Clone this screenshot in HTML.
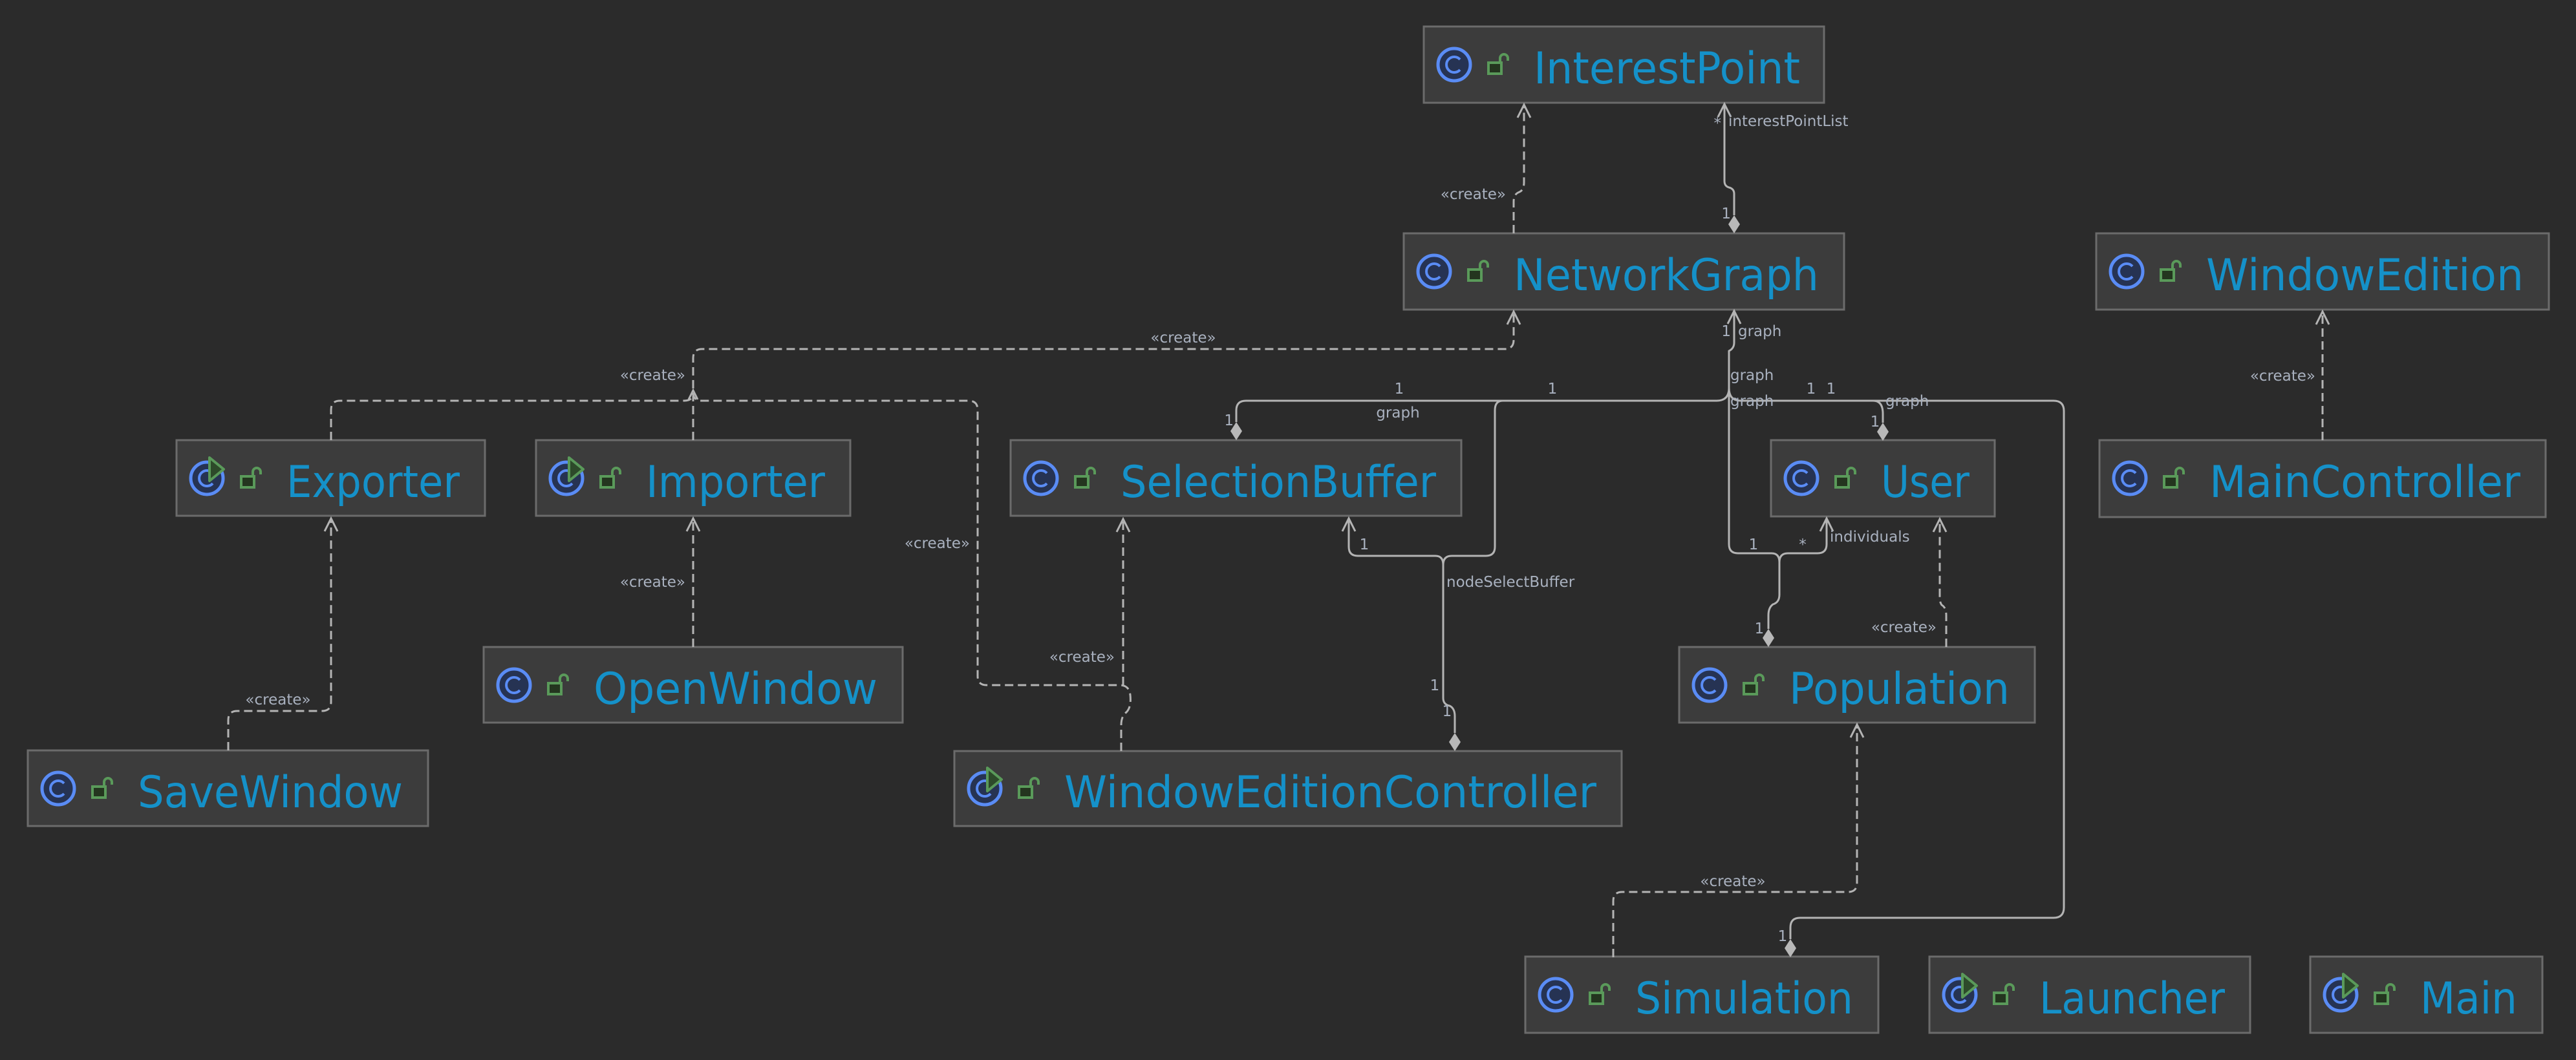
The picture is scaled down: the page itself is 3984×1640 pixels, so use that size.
<!DOCTYPE html>
<html><head><meta charset="utf-8"><style>
html,body{margin:0;padding:0;background:#2b2b2b;}
svg{display:block;}
.box{fill:#3c3c3c;stroke:#6b6b6b;stroke-width:3;}
.nm{font-family:"DejaVu Sans","Liberation Sans",sans-serif;font-size:68px;fill:#1591c9;}
.lb{font-family:"DejaVu Sans","Liberation Sans",sans-serif;font-size:23px;fill:#a9b1bf;}
.s{fill:none;stroke:#b4b4b4;stroke-width:3;}
.d{fill:none;stroke:#b4b4b4;stroke-width:3;stroke-dasharray:13 7;}
.ar{fill:none;stroke:#b4b4b4;stroke-width:3;}
.dm{fill:#b8b8b8;}
</style></head><body>
<svg width="3984" height="1640" viewBox="0 0 3984 1640" xmlns="http://www.w3.org/2000/svg">
<defs>
<g id="ic">
  <circle cx="0" cy="0" r="25" fill="#263353" stroke="#5a8cf5" stroke-width="5"/>
  <path d="M9,-8 A12,12 0 1 0 9,8" fill="none" stroke="#5a8cf5" stroke-width="4"/>
  <rect x="53" y="-3" width="20" height="17" fill="#24351f" stroke="#5a9a5a" stroke-width="4"/>
  <path d="M71,-3 V-10 A6,6 0 0 1 83,-10 V-6" fill="none" stroke="#5a9a5a" stroke-width="4"/>
</g>
<g id="run">
  <polygon points="4,-32 26,-14 4,4" fill="#2d4a2a" stroke="#5a9a5a" stroke-width="4" stroke-linejoin="round"/>
</g>
</defs>

<g>
<rect class="box" x="2202" y="41" width="619" height="118"/><use href="#ic" x="2249" y="100"/><text class="nm" x="2372" y="129" textLength="412" lengthAdjust="spacingAndGlyphs">InterestPoint</text>
<rect class="box" x="2171" y="361" width="681" height="118"/><use href="#ic" x="2218" y="420"/><text class="nm" x="2341" y="449" textLength="472" lengthAdjust="spacingAndGlyphs">NetworkGraph</text>
<rect class="box" x="3242" y="361" width="700" height="118"/><use href="#ic" x="3289" y="420"/><text class="nm" x="3412" y="449" textLength="491" lengthAdjust="spacingAndGlyphs">WindowEdition</text>
<rect class="box" x="273" y="681" width="477" height="117"/><use href="#ic" x="320" y="740"/><use href="#run" x="320" y="740"/><text class="nm" x="443" y="769" textLength="268" lengthAdjust="spacingAndGlyphs">Exporter</text>
<rect class="box" x="829" y="681" width="486" height="117"/><use href="#ic" x="876" y="740"/><use href="#run" x="876" y="740"/><text class="nm" x="999" y="769" textLength="277" lengthAdjust="spacingAndGlyphs">Importer</text>
<rect class="box" x="1563" y="681" width="697" height="117"/><use href="#ic" x="1610" y="740"/><text class="nm" x="1733" y="769" textLength="488" lengthAdjust="spacingAndGlyphs">SelectionBuffer</text>
<rect class="box" x="2739" y="681" width="346" height="118"/><use href="#ic" x="2786" y="740"/><text class="nm" x="2909" y="769" textLength="137" lengthAdjust="spacingAndGlyphs">User</text>
<rect class="box" x="3247" y="681" width="690" height="119"/><use href="#ic" x="3294" y="740"/><text class="nm" x="3417" y="769" textLength="481" lengthAdjust="spacingAndGlyphs">MainController</text>
<rect class="box" x="748" y="1001" width="648" height="117"/><use href="#ic" x="795" y="1060"/><text class="nm" x="918" y="1089" textLength="439" lengthAdjust="spacingAndGlyphs">OpenWindow</text>
<rect class="box" x="2597" y="1001" width="550" height="117"/><use href="#ic" x="2644" y="1060"/><text class="nm" x="2767" y="1089" textLength="341" lengthAdjust="spacingAndGlyphs">Population</text>
<rect class="box" x="43" y="1161" width="619" height="117"/><use href="#ic" x="90" y="1220"/><text class="nm" x="213" y="1249" textLength="410" lengthAdjust="spacingAndGlyphs">SaveWindow</text>
<rect class="box" x="1476" y="1162" width="1032" height="116"/><use href="#ic" x="1523" y="1220"/><use href="#run" x="1523" y="1220"/><text class="nm" x="1646" y="1249" textLength="823" lengthAdjust="spacingAndGlyphs">WindowEditionController</text>
<rect class="box" x="2359" y="1480" width="546" height="118"/><use href="#ic" x="2406" y="1539"/><text class="nm" x="2529" y="1568" textLength="337" lengthAdjust="spacingAndGlyphs">Simulation</text>
<rect class="box" x="2984" y="1480" width="496" height="118"/><use href="#ic" x="3031" y="1539"/><use href="#run" x="3031" y="1539"/><text class="nm" x="3154" y="1568" textLength="287" lengthAdjust="spacingAndGlyphs">Launcher</text>
<rect class="box" x="3573" y="1480" width="359" height="118"/><use href="#ic" x="3620" y="1539"/><use href="#run" x="3620" y="1539"/><text class="nm" x="3743" y="1568" textLength="150" lengthAdjust="spacingAndGlyphs">Main</text>
</g>

<path class="s" d="M2682,333 V300 Q2682,292 2674,290 Q2667,288 2667,280 V161"/>
<polyline class="ar" points="2657,181 2667,161 2677,181"/>
<polygon class="dm" points="2682,361 2691,347 2682,333 2673,347"/>

<path class="s" d="M2682,481 V530 Q2682,539 2674,543 V606"/>
<polyline class="ar" points="2672,501 2682,481 2692,501"/>
<path class="s" d="M2674,600 Q2674,620 2655,620 H1927 Q1912,620 1912,635 V653"/>
<polygon class="dm" points="1912,681 1921,667 1912,653 1903,667"/>
<path class="s" d="M2324,620 Q2312,620 2312,635 V846 Q2312,860 2298,860 H2245 Q2232,860 2232,874 V1080 Q2232,1090 2242,1092 Q2250,1096 2250,1108 V1134"/>
<polygon class="dm" points="2250,1162 2259,1148 2250,1134 2241,1148"/>
<path class="s" d="M2086,802 V846 Q2086,860 2100,860 H2220 Q2232,860 2232,874"/>
<polyline class="ar" points="2076,822 2086,802 2096,822"/>
<path class="s" d="M2674,600 V842 Q2674,856 2688,856 H2740 Q2752,856 2752,870 V920 Q2752,932 2742,935 Q2735,940 2735,952 V973"/>
<polygon class="dm" points="2735,1001 2744,987 2735,973 2726,987"/>
<path class="s" d="M2825,802 V842 Q2825,856 2811,856 H2765 Q2752,856 2752,870"/>
<polyline class="ar" points="2815,822 2825,802 2835,822"/>
<path class="s" d="M2674,600 Q2674,620 2692,620 H2897 Q2912,620 2912,640 V654"/>
<polygon class="dm" points="2912,682 2921,668 2912,654 2903,668"/>
<path class="s" d="M2897,620 H3176 Q3192,620 3192,636 V1404 Q3192,1420 3176,1420 H2784 Q2769,1420 2769,1435 V1453"/>
<polygon class="dm" points="2769,1481 2778,1467 2769,1453 2760,1467"/>

<path class="d" d="M2341,361 V312 Q2341,300 2350,297 Q2357,294 2357,282 V162"/>
<polyline class="ar" points="2347,182 2357,162 2367,182"/>
<path class="d" d="M512,681 V634 Q512,620 526,620 H1058 Q1072,620 1072,608"/>
<path class="d" d="M1072,681 V554 Q1072,540 1086,540 H2327 Q2341,540 2341,526 V482"/>
<polyline class="ar" points="2331,502 2341,482 2351,502"/>
<polyline class="ar" points="1065,618 1072,604 1079,618"/>
<path class="d" d="M1734,1162 V1122 Q1734,1108 1742,1102 Q1750,1094 1748,1075 Q1746,1060 1732,1060 H1526 Q1512,1060 1512,1046 V634 Q1512,620 1498,620 H1086 Q1072,620 1072,608"/>
<path class="d" d="M1737,1060 V803"/>
<polyline class="ar" points="1727,823 1737,803 1747,823"/>
<path class="d" d="M1072,1001 V802"/>
<polyline class="ar" points="1062,822 1072,802 1082,822"/>
<path class="d" d="M353,1161 V1114 Q353,1100 367,1100 H498 Q512,1100 512,1086 V802"/>
<polyline class="ar" points="502,822 512,802 522,822"/>
<path class="d" d="M3010,1001 V952 Q3010,940 3003,936 Q3000,932 3000,924 V803"/>
<polyline class="ar" points="2990,823 3000,803 3010,823"/>
<path class="d" d="M2495,1481 V1394 Q2495,1380 2509,1380 H2858 Q2872,1380 2872,1366 V1121"/>
<polyline class="ar" points="2862,1141 2872,1121 2882,1141"/>
<path class="d" d="M3592,681 V482"/>
<polyline class="ar" points="3582,502 3592,482 3602,502"/>

<g class="lb">
<text x="2329" y="308" text-anchor="end">«create»</text>
<text x="2662" y="198" text-anchor="end">*</text>
<text x="2673" y="195">interestPointList</text>
<text x="2677" y="338" text-anchor="end">1</text>
<text x="2677" y="520" text-anchor="end">1</text>
<text x="2688" y="520">graph</text>
<text x="2676" y="588">graph</text>
<text x="2676" y="628">graph</text>
<text x="2164" y="609" text-anchor="middle">1</text>
<text x="2401" y="609" text-anchor="middle">1</text>
<text x="2162" y="646" text-anchor="middle">graph</text>
<text x="1908" y="658" text-anchor="end">1</text>
<text x="1830" y="530" text-anchor="middle">«create»</text>
<text x="1060" y="588" text-anchor="end">«create»</text>
<text x="1500" y="848" text-anchor="end">«create»</text>
<text x="1724" y="1024" text-anchor="end">«create»</text>
<text x="1060" y="908" text-anchor="end">«create»</text>
<text x="430" y="1090" text-anchor="middle">«create»</text>
<text x="2110" y="850" text-anchor="middle">1</text>
<text x="2237" y="908">nodeSelectBuffer</text>
<text x="2219" y="1068" text-anchor="middle">1</text>
<text x="2238" y="1108" text-anchor="middle">1</text>
<text x="2801" y="609" text-anchor="middle">1</text>
<text x="2832" y="609" text-anchor="middle">1</text>
<text x="2916" y="628">graph</text>
<text x="2900" y="660" text-anchor="middle">1</text>
<text x="2712" y="850" text-anchor="middle">1</text>
<text x="2788" y="850" text-anchor="middle">*</text>
<text x="2830" y="838">individuals</text>
<text x="2721" y="980" text-anchor="middle">1</text>
<text x="2995" y="978" text-anchor="end">«create»</text>
<text x="2680" y="1371" text-anchor="middle">«create»</text>
<text x="2757" y="1456" text-anchor="middle">1</text>
<text x="3581" y="589" text-anchor="end">«create»</text>
</g>
</svg>
</body></html>
